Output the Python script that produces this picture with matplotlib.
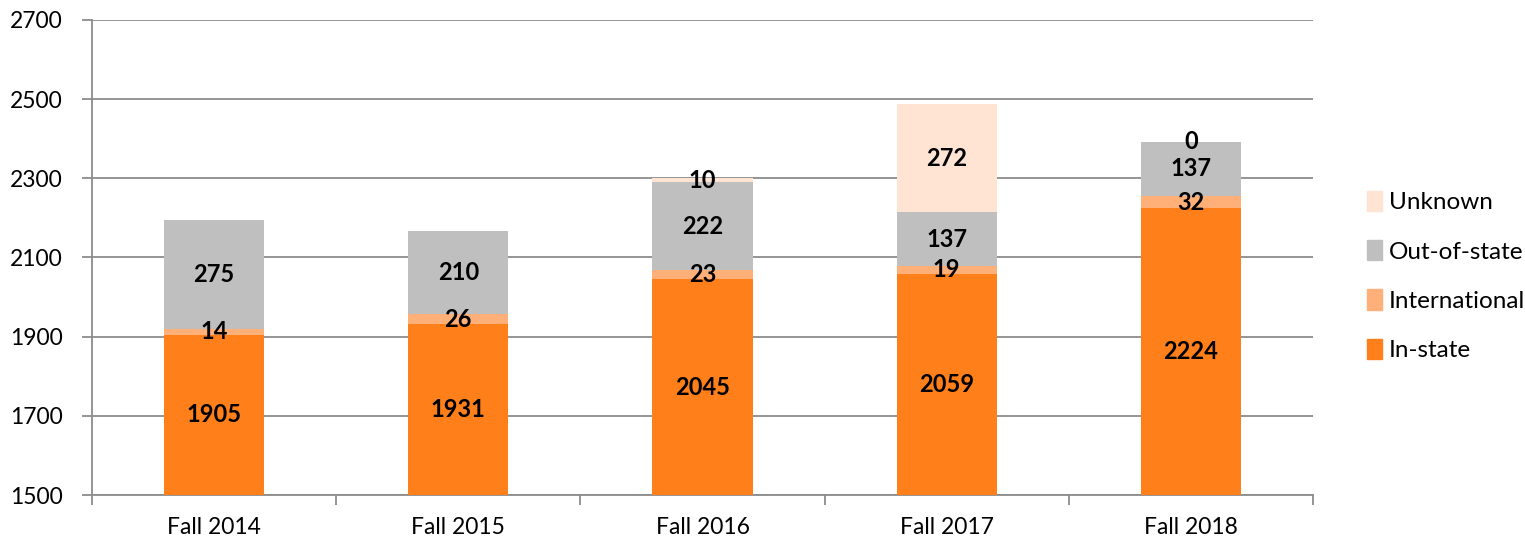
import numpy as np
import matplotlib.pyplot as plt
from matplotlib.patches import Patch

plt.rcParams['font.family'] = ['Lato', 'DejaVu Sans']

categories = ["Fall 2014", "Fall 2015", "Fall 2016", "Fall 2017", "Fall 2018"]
in_state = [1905, 1931, 2045, 2059, 2224]
international = [14, 26, 23, 19, 32]
out_of_state = [275, 210, 222, 137, 137]
unknown = [None, None, 10, 272, 0]

series = [
    ("In-state", in_state, "#FF7F1A"),
    ("International", international, "#FFAF78"),
    ("Out-of-state", out_of_state, "#BFBFBF"),
    ("Unknown", unknown, "#FFE4D4"),
]

YMIN, YMAX = 1500, 2700

fig = plt.figure(figsize=(15.25, 5.51), dpi=100)
ax = fig.add_axes([92 / 1525, 56 / 551, 1221 / 1525, 475 / 551])

x = np.arange(len(categories))
bottom = np.zeros(len(categories))
width = 0.41

for name, vals, color in series:
    v = np.array([0 if a is None else a for a in vals], dtype=float)
    ax.bar(x, v, width, bottom=bottom, color=color, zorder=3)
    for i, a in enumerate(vals):
        if a is None:
            continue
        lo = max(bottom[i], YMIN)
        hi = bottom[i] + a
        yc = (lo + hi) / 2
        ax.text(x[i], yc, str(a), ha="center", va="center",
                fontsize=17, fontweight="bold", color="black", zorder=4)
    bottom += v

ax.set_ylim(YMIN, YMAX)
ax.set_xlim(-0.5, len(categories) - 0.5)
ax.set_yticks(range(YMIN, YMAX + 1, 200))
ax.yaxis.grid(True, color="#8C8C8C", linewidth=1.3, zorder=0)
ax.set_axisbelow(True)

ax.set_xticks(x)
ax.set_xticklabels(categories)
ax.set_xticks(np.arange(-0.5, len(categories), 1), minor=True)
ax.tick_params(axis="x", which="major", length=0, pad=16, labelsize=16.5)
ax.tick_params(axis="x", which="minor", length=7, color="#8C8C8C", width=1.3)
ax.tick_params(axis="y", length=7, color="#8C8C8C", width=1.3, labelsize=16.5, pad=14)

for s in ["top", "right"]:
    ax.spines[s].set_visible(False)
for s in ["left", "bottom"]:
    ax.spines[s].set_color("#8C8C8C")
    ax.spines[s].set_linewidth(1.3)

handles = [Patch(color=c, label=n) for n, _, c in series][::-1]
fig.legend(handles=handles, loc="center left", bbox_to_anchor=(1355 / 1525, 1 - 276 / 551),
           frameon=False, fontsize=17.5, handlelength=0.6, handleheight=0.9,
           handletextpad=0.3, labelspacing=1.1, borderpad=0)

fig.savefig("out.png", dpi=100)
